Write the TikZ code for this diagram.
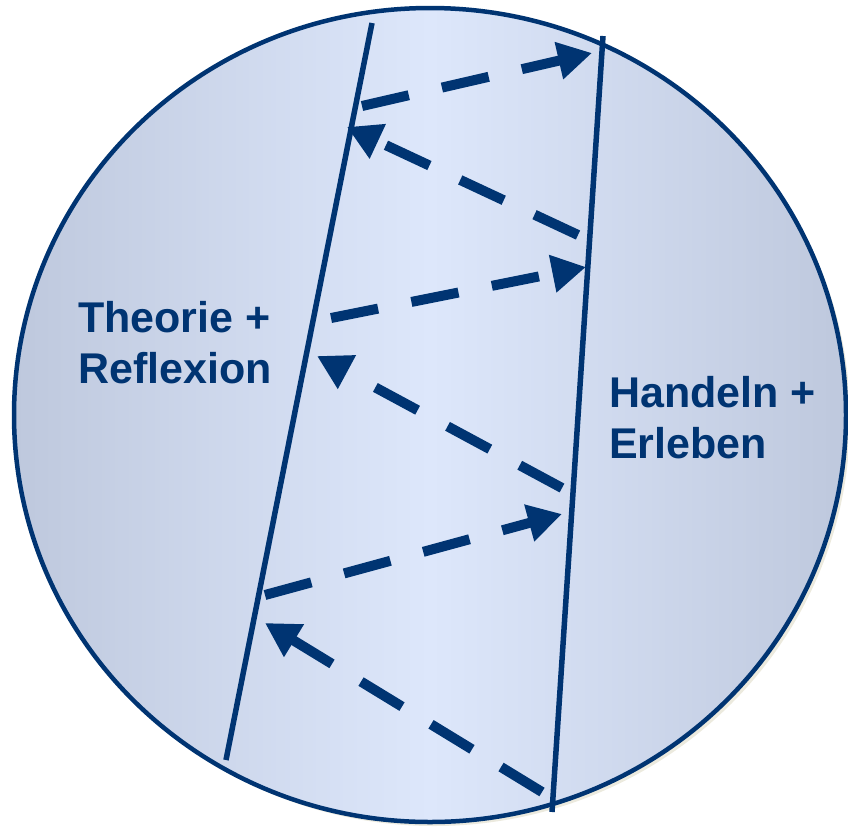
\documentclass[tikz,border=0pt]{standalone}
\usepackage{fontspec}
\setmainfont{Liberation Sans}
\usetikzlibrary{arrows.meta}
\definecolor{navy}{RGB}{0,52,114}
\definecolor{edgeblue}{RGB}{190,200,221}
\definecolor{midblue}{RGB}{221,231,251}
\definecolor{shadowc}{RGB}{236,234,222}
\tikzset{
  rail/.style={draw=navy, line width=5.5pt},
  flow/.style={draw=navy, line width=10pt, dash pattern=on 48pt off 34pt,
    -{Triangle[length=34pt,width=36pt]}},
  lbl/.style={text=navy, font=\fontsize{43}{51}\selectfont\bfseries, align=left, inner sep=0pt}
}
\begin{document}
\begin{tikzpicture}[x=1pt,y=-1pt]
\useasboundingbox (0,0) rectangle (848,828);
% shadow and disc
\fill[shadowc] (434,419) ellipse [x radius=416, y radius=407];
\shade[left color=edgeblue, right color=edgeblue, middle color=midblue]
  (430,415) ellipse [x radius=416, y radius=407];
\draw[navy, line width=4.5pt] (430,415) ellipse [x radius=416, y radius=407];
% rails
\coordinate (Ltop) at (372,23);
\coordinate (Lbot) at (226,760);
\coordinate (Rtop) at (603,36);
\coordinate (Rbot) at (552,812);
\draw[rail] (Ltop) -- (Lbot);
\draw[rail] (Rtop) -- (Rbot);
% arrow end points
\coordinate (a1s) at (362,106); \coordinate (a1e) at (592,53);
\coordinate (a2s) at (578,235); \coordinate (a2e) at (347,127);
\coordinate (a3s) at (331,318); \coordinate (a3e) at (586,267);
\coordinate (a4s) at (562,488); \coordinate (a4e) at (317,356);
\coordinate (a5s) at (265,595); \coordinate (a5e) at (562,514);
\coordinate (a6s) at (542,792); \coordinate (a6e) at (265,623);
\draw[flow] (a1s) -- (a1e);
\draw[flow] (a2s) -- (a2e);
\draw[flow] (a3s) -- (a3e);
\draw[flow] (a4s) -- (a4e);
\draw[flow] (a5s) -- (a5e);
\draw[flow] (a6s) -- (a6e);
% labels
\node[lbl, anchor=base west] (theorie) at (78,383) {Theorie +\\Reflexion};
\node[lbl, anchor=base west] (handeln) at (609,458) {Handeln +\\Erleben};
\end{tikzpicture}
\end{document}
